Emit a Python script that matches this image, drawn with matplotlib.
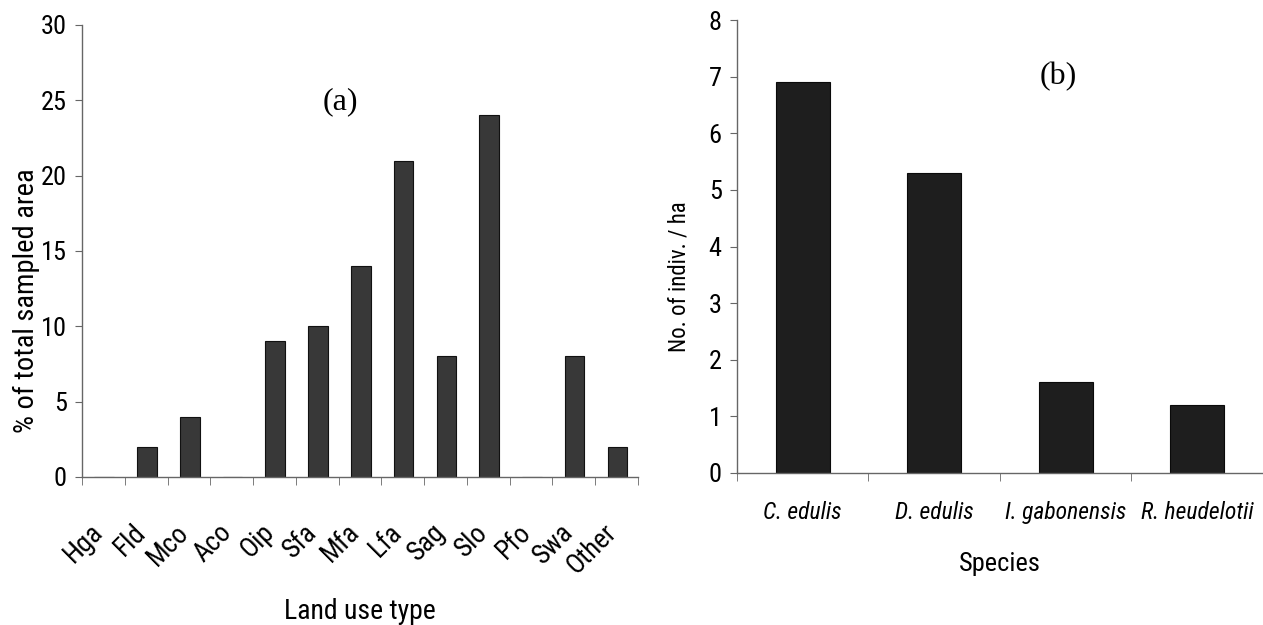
import matplotlib
matplotlib.use("Agg")
import matplotlib.pyplot as plt
import matplotlib.transforms as mtransforms
from matplotlib import font_manager
import numpy as np

# pick a narrow sans like the original (Arial Narrow look)
have = {f.name for f in font_manager.fontManager.ttflist}
narrow = [n for n in ["Liberation Sans Narrow", "Arial Narrow", "Roboto Condensed", "Archivo Narrow",
	"PT Sans Narrow", "Pragati Narrow"] if n in have]
plt.rcParams['font.family'] = narrow[:1] + ['Liberation Sans', 'DejaVu Sans']

# (a) land use types
land_use = ["Hga", "Fld", "Mco", "Aco", "Oip", "Sfa", "Mfa", "Lfa", "Sag", "Slo", "Pfo", "Swa", "Other"]
area_pct = [0, 2, 4, 0, 9, 10, 14, 21, 8, 24, 0, 8, 2]

# (b) species density
species = ["C. edulis", "D. edulis", "I. gabonensis", "R. heudelotii"]
indiv_ha = [6.9, 5.3, 1.6, 1.2]

fig = plt.figure(figsize=(12.63, 6.25), dpi=100)
axa = fig.add_axes([0.0649, 0.2368, 0.4402, 0.7232])
axb = fig.add_axes([0.5835, 0.2432, 0.4165, 0.7248])

def style(ax, n):
	for s in ["top", "right"]:
		ax.spines[s].set_visible(False)
	for s in ["left", "bottom"]:
		ax.spines[s].set_color("#666666")
		ax.spines[s].set_linewidth(1.0)
	ax.set_xlim(-0.5, n - 0.5)
	ax.set_xticks(np.arange(n + 1) - 0.5, minor=True)
	ax.tick_params(axis="x", which="minor", length=6, color="#666666", direction="out")
	ax.tick_params(axis="x", which="major", length=0)
	ax.tick_params(axis="y", length=5, color="#666666", direction="out", labelsize=19, pad=6)

# panel (a)
xa = np.arange(len(land_use))
axa.bar(xa + 0.02, area_pct, width=0.46, color="#383838", edgecolor="#111111", linewidth=0.8)
style(axa, len(land_use))
axa.set_ylim(0, 30)
axa.set_yticks(range(0, 31, 5))
axa.set_xticks(xa)
axa.set_xticklabels(land_use, rotation=45, ha="right", va="top", rotation_mode="anchor", fontsize=19.5)
axa.tick_params(axis="x", which="major", pad=30)
shift = mtransforms.ScaledTranslation(-14 / 100, 0, fig.dpi_scale_trans)
for lab in axa.get_xticklabels():
	lab.set_transform(lab.get_transform() + shift)
axa.set_ylabel("% of total sampled area", fontsize=20.5)
axa.yaxis.set_label_coords(-0.075, 0.39)
axa.set_xlabel("Land use type", fontsize=20)
axa.xaxis.set_label_coords(0.5, -0.268)
axa.text(0.465, 0.83, "(a)", transform=axa.transAxes, fontsize=23, family="Liberation Serif", ha="center", va="center")

# panel (b)
xb = np.arange(len(species))
axb.bar(xb, indiv_ha, width=0.41, color="#1e1e1e", edgecolor="#0a0a0a", linewidth=0.8)
style(axb, len(species))
axb.set_ylim(0, 8)
axb.set_yticks(range(0, 9))
axb.set_xticks(xb)
axb.set_xticklabels(species, fontsize=17, style="italic")
axb.tick_params(axis="x", which="major", pad=20)
axb.set_ylabel("No. of indiv. / ha", fontsize=16.5)
axb.yaxis.set_label_coords(-0.088, 0.433)
axb.set_xlabel("Species", fontsize=19, labelpad=20)
axb.text(0.61, 0.875, "(b)", transform=axb.transAxes, fontsize=23, family="Liberation Serif", ha="center", va="center")

fig.savefig("out.png", dpi=100)
